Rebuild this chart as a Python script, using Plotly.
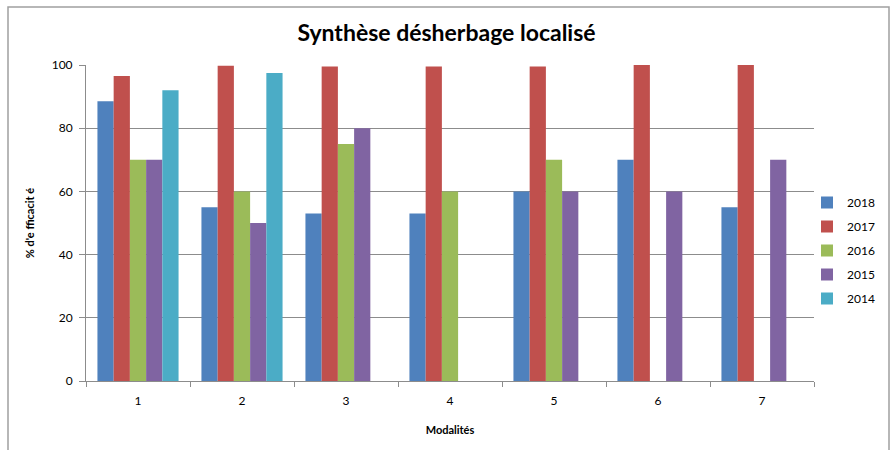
import plotly.graph_objects as go

categories = ["1", "2", "3", "4", "5", "6", "7"]
series_names = ["2018", "2017", "2016", "2015", "2014"]
v2018 = [88.5, 55, 53, 53, 60, 70, 55]
v2017 = [96.5, 99.8, 99.5, 99.5, 99.5, 100, 100]
v2016 = [70, 60, 75, 60, 70, None, None]
v2015 = [70, 50, 80, None, 60, 60, 70]
v2014 = [92, 97.5, None, None, None, None, None]
colors = ["#4F81BD", "#C0504D", "#9BBB59", "#8064A2", "#4BACC6"]
yticks = [0, 20, 40, 60, 80, 100]

series_values = [v2018, v2017, v2016, v2015, v2014]

fig = go.Figure()
for name, vals, col in zip(series_names, series_values, colors):
    fig.add_trace(go.Bar(x=categories, y=vals, name=name, legendgroup=name,
                         marker=dict(color=col, line=dict(width=0))))

FONT = "Lato"
L, R, T, B = 86, 79, 65, 69
W, H = 893, 450
pw = W - L - R
ph = H - T - B

fig.update_layout(
    width=W, height=H,
    margin=dict(l=L, r=R, t=T, b=B, autoexpand=False),
    paper_bgcolor="white", plot_bgcolor="white",
    barmode="group", bargap=0.22, bargroupgap=0,
    font=dict(family=FONT, size=12, color="#000000"),
    title=dict(text="<b>Synthèse désherbage localisé</b>", x=0.5, xanchor="center",
               y=1 - 33 / H, yanchor="middle", font=dict(family=FONT, size=23, color="#000000")),
    legend=dict(x=(807 - L) / pw, y=(381 - 188) / ph, xanchor="left", yanchor="top",
                font=dict(family=FONT, size=12), tracegroupgap=5, itemwidth=30,
                bgcolor="rgba(0,0,0,0)"),
    showlegend=True,
)
fig.update_xaxes(
    type="category", showline=True, linecolor="#8C8C8C", linewidth=1,
    ticks="outside", tickson="boundaries", ticklen=5, tickcolor="#8C8C8C",
    showgrid=False, tickfont=dict(size=12), automargin=False, ticklabelstandoff=9,
    title=dict(text="<b>Modalités</b>", font=dict(size=11), standoff=18),
)
fig.update_yaxes(
    range=[0, 100], tickvals=yticks, showline=True, linecolor="#8C8C8C", linewidth=1,
    ticks="outside", ticklen=6, tickcolor="#8C8C8C",
    showgrid=True, gridcolor="#8C8C8C", gridwidth=1, zeroline=False,
    tickfont=dict(size=12), automargin=False, ticklabelstandoff=4,
    title=dict(text="<b>% d'e fficacit é</b>", font=dict(size=11), standoff=14),
)
fig.add_shape(type="rect", xref="paper", yref="paper",
              x0=(8 - L) / pw, x1=(889 - L) / pw, y0=-(H + 20 - 381) / ph, y1=(381 - 7) / ph,
              line=dict(color="#A0A0A0", width=1.5), fillcolor="rgba(0,0,0,0)", layer="below")

fig.write_html("out.html", config={"displayModeBar": False},
               post_script="document.body.style.margin='0';document.body.style.padding='0';")
